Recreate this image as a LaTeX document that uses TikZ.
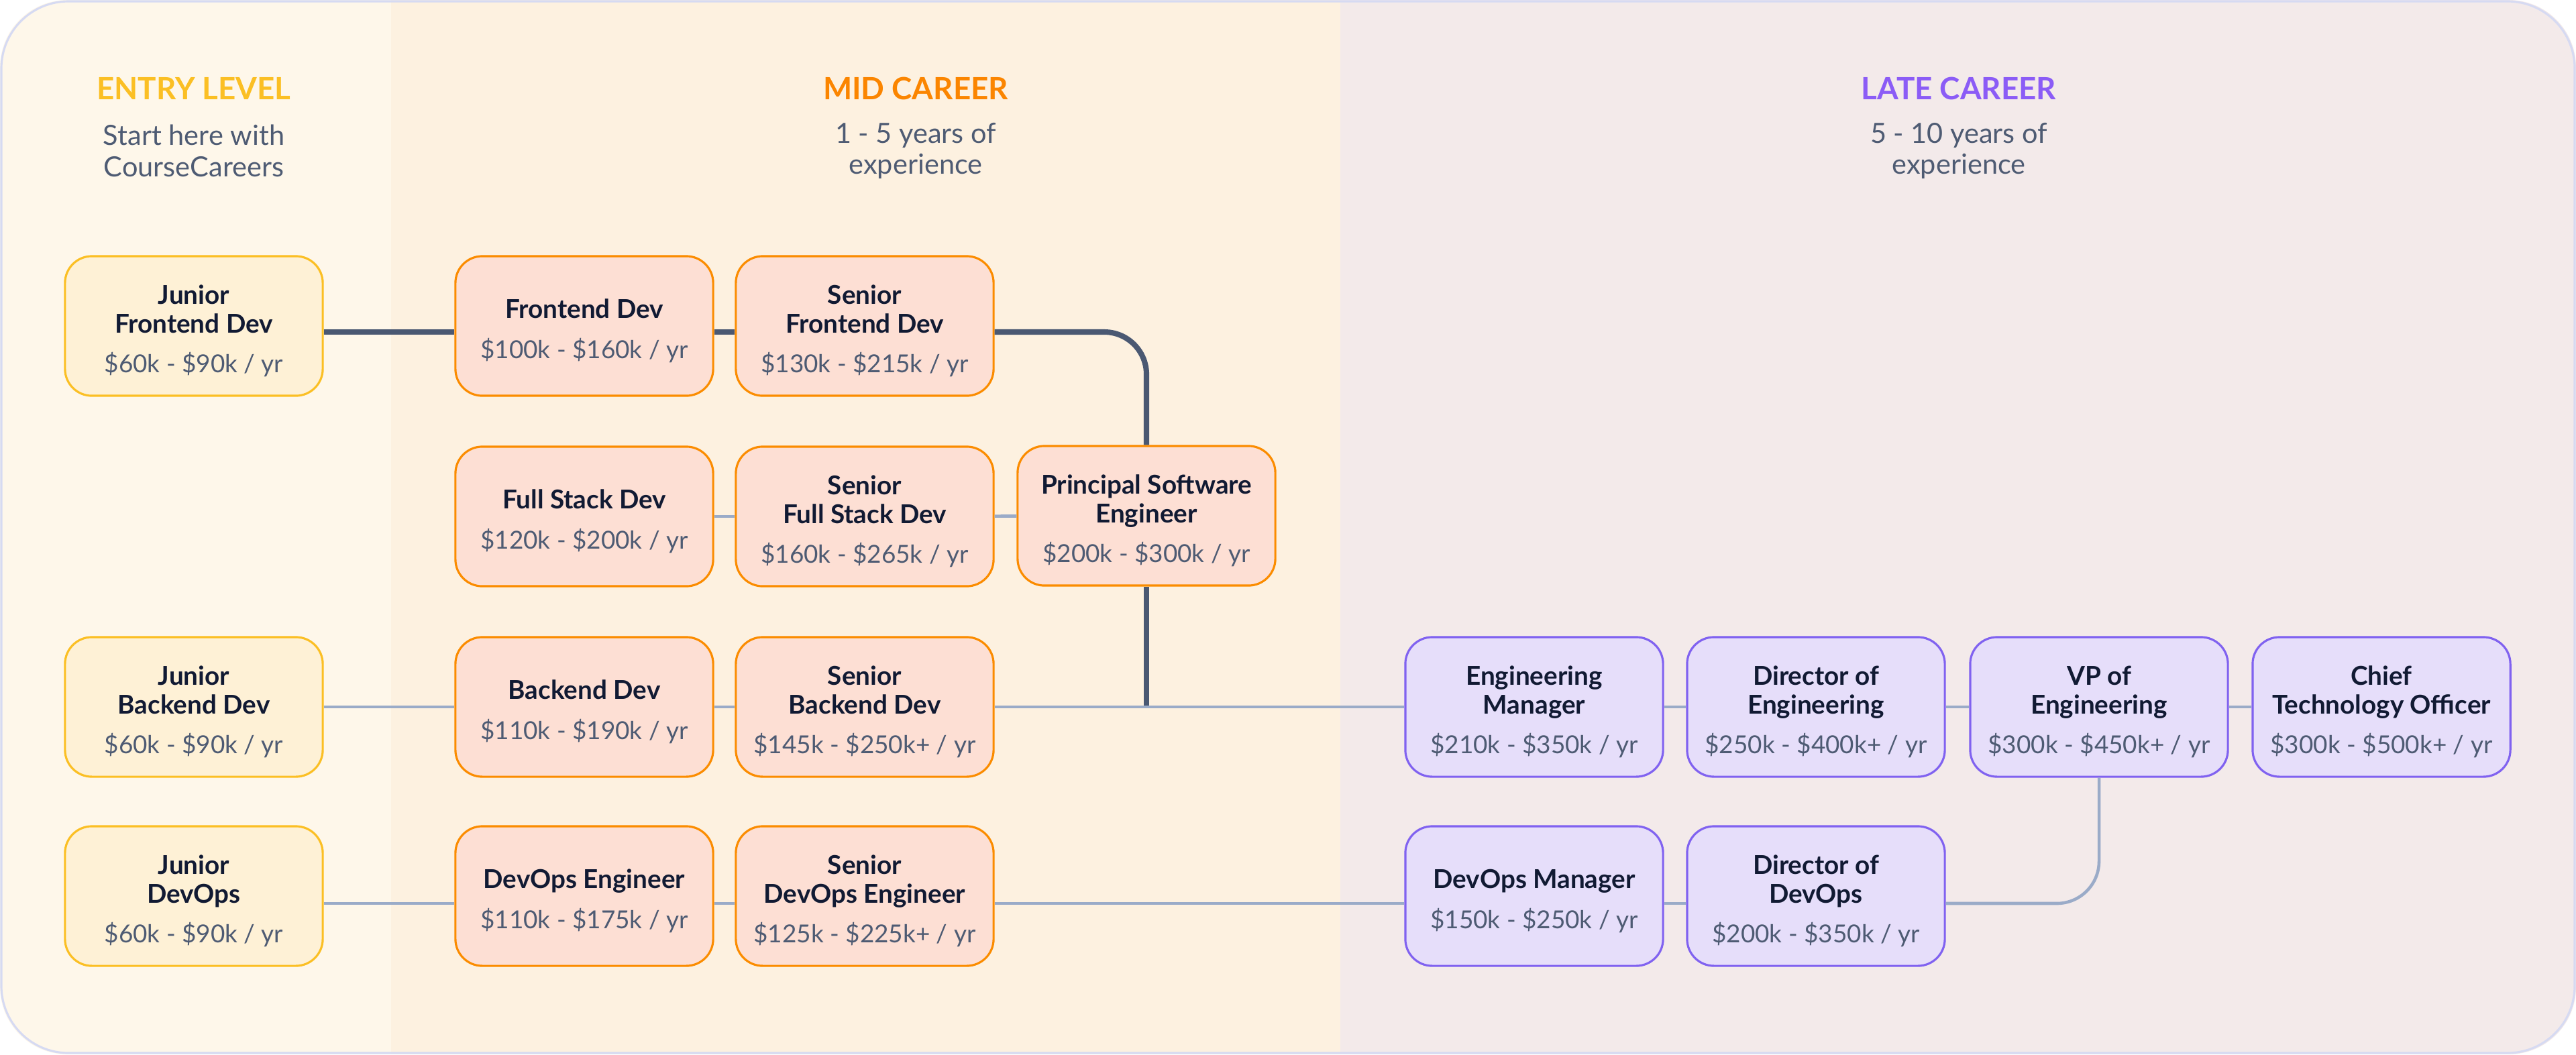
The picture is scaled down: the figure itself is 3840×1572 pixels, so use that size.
\documentclass[tikz,border=0pt]{standalone}
\usepackage{fontspec}
\setmainfont{Lato}
\usepackage{xcolor}
\usepackage{tikz}
\usetikzlibrary{positioning,calc}

\definecolor{entryband}{HTML}{FEF7EA}
\definecolor{midband}{HTML}{FDF1E0}
\definecolor{lateband}{HTML}{F3EAEA}
\definecolor{frameink}{HTML}{D6DAF2}
\definecolor{entryfill}{HTML}{FEF1D6}
\definecolor{entryedge}{HTML}{FBBF24}
\definecolor{midfill}{HTML}{FDDFD4}
\definecolor{midedge}{HTML}{FB8C00}
\definecolor{latefill}{HTML}{E6DEFA}
\definecolor{lateedge}{HTML}{8062F0}
\definecolor{entryhead}{HTML}{FBBF24}
\definecolor{midhead}{HTML}{FB8500}
\definecolor{latehead}{HTML}{8B5CF6}
\definecolor{titleink}{HTML}{111A33}
\definecolor{slateink}{HTML}{4E5B73}
\definecolor{mainink}{HTML}{4A5872}
\definecolor{sideink}{HTML}{9AABC8}

\newcommand{\headroom}{\rule{0pt}{12.5pt}}
\newcommand{\wage}[1]{{\fontsize{10.5}{12}\selectfont\mdseries\color{slateink}#1}}

\begin{document}
\begin{tikzpicture}[x=0.01cm, y=-0.01cm,
    rolebox/.style={rounded corners=0.4cm, line width=0.9pt, minimum width=3.84cm, minimum height=2.08cm,
        align=center, inner sep=0pt, text=titleink, font=\fontsize{11}{12}\selectfont\bfseries},
    entrybox/.style={rolebox, draw=entryedge, fill=entryfill},
    midbox/.style={rolebox, draw=midedge, fill=midfill},
    latebox/.style={rolebox, draw=lateedge, fill=latefill},
    headtext/.style={font=\fontsize{13}{15}\selectfont\bfseries},
    subtext/.style={align=center, text=slateink, font=\fontsize{11.8}{13.3}\selectfont},
    mainline/.style={draw=mainink, line width=2.3pt},
    sideline/.style={draw=sideink, line width=1.3pt}]

    \useasboundingbox (0,0) rectangle (3840,1572);
    \begin{scope}
        \clip[rounded corners=1cm] (0,0) rectangle (3840,1572);
        \fill[entryband] (0,0) rectangle (583,1572);
        \fill[midband] (583,0) rectangle (1998,1572);
        \fill[lateband] (1998,0) rectangle (3840,1572);
    \end{scope}
    \draw[frameink, line width=0.9pt, rounded corners=1cm] (2,2) rectangle (3838,1570);

    \node[headtext, text=entryhead] (entrytitle) at (289,132) {ENTRY LEVEL};
    \node[headtext, text=midhead] (midtitle) at (1365,132) {MID CAREER};
    \node[headtext, text=latehead] (latetitle) at (2920,132) {LATE CAREER};
    \node[subtext] (entrysub) at (289,225) {Start here with\\CourseCareers};
    \node[subtext] (midsub) at (1365,225) {1 - 5 years of\\experience};
    \node[subtext] (latesub) at (2920,225) {5 - 10 years of\\experience};

    \node[entrybox] (jfe) at (289,486) {\headroom Junior\\Frontend Dev\\[5pt]\wage{\$60k - \$90k / yr}};
    \node[entrybox] (jbe) at (289,1054) {\headroom Junior\\Backend Dev\\[5pt]\wage{\$60k - \$90k / yr}};
    \node[entrybox] (jdo) at (289,1336) {\headroom Junior\\DevOps\\[5pt]\wage{\$60k - \$90k / yr}};

    \node[midbox] (fe) at (871,486) {\headroom Frontend Dev\\[5pt]\wage{\$100k - \$160k / yr}};
    \node[midbox] (sfe) at (1289,486) {\headroom Senior\\Frontend Dev\\[5pt]\wage{\$130k - \$215k / yr}};
    \node[midbox] (fs) at (871,770) {\headroom Full Stack Dev\\[5pt]\wage{\$120k - \$200k / yr}};
    \node[midbox] (sfs) at (1289,770) {\headroom Senior\\Full Stack Dev\\[5pt]\wage{\$160k - \$265k / yr}};
    \node[midbox] (pse) at (1709,769) {\headroom Principal Software\\Engineer\\[5pt]\wage{\$200k - \$300k / yr}};
    \node[midbox] (be) at (871,1054) {\headroom Backend Dev\\[5pt]\wage{\$110k - \$190k / yr}};
    \node[midbox] (sbe) at (1289,1054) {\headroom Senior\\Backend Dev\\[5pt]\wage{\$145k - \$250k+ / yr}};
    \node[midbox] (doe) at (871,1336) {\headroom DevOps Engineer\\[5pt]\wage{\$110k - \$175k / yr}};
    \node[midbox] (sdo) at (1289,1336) {\headroom Senior\\DevOps Engineer\\[5pt]\wage{\$125k - \$225k+ / yr}};

    \node[latebox] (em) at (2287,1054) {\headroom Engineering\\Manager\\[5pt]\wage{\$210k - \$350k / yr}};
    \node[latebox] (doen) at (2707,1054) {\headroom Director of\\Engineering\\[5pt]\wage{\$250k - \$400k+ / yr}};
    \node[latebox] (vpe) at (3129,1054) {\headroom VP of\\Engineering\\[5pt]\wage{\$300k - \$450k+ / yr}};
    \node[latebox] (cto) at (3550,1054) {\headroom Chief\\Technology Officer\\[5pt]\wage{\$300k - \$500k+ / yr}};
    \node[latebox] (dom) at (2287,1336) {\headroom DevOps Manager\\[5pt]\wage{\$150k - \$250k / yr}};
    \node[latebox] (dod) at (2707,1336) {\headroom Director of\\DevOps\\[5pt]\wage{\$200k - \$350k / yr}};

    \draw[mainline] ($(jfe.east)+(0,9)$) -- ($(fe.west)+(0,9)$);
    \draw[mainline] ($(fe.east)+(0,9)$) -- ($(sfe.west)+(0,9)$);
    \draw[mainline, rounded corners=0.63cm] ($(sfe.east)+(0,9)$) -| (pse.north);
    \draw[mainline] (pse.south) -- (pse.south |- sbe.east);

    \draw[sideline] (fs) -- (sfs);
    \draw[sideline] (sfs) -- (pse);
    \draw[sideline] (jbe) -- (be);
    \draw[sideline] (be) -- (sbe);
    \draw[sideline] (sbe) -- (em);
    \draw[sideline] (em) -- (doen);
    \draw[sideline] (doen) -- (vpe);
    \draw[sideline] (vpe) -- (cto);
    \draw[sideline] ($(jdo.east)+(0,11)$) -- ($(doe.west)+(0,11)$);
    \draw[sideline] ($(doe.east)+(0,11)$) -- ($(sdo.west)+(0,11)$);
    \draw[sideline] ($(sdo.east)+(0,11)$) -- ($(dom.west)+(0,11)$);
    \draw[sideline] ($(dom.east)+(0,11)$) -- ($(dod.west)+(0,11)$);
    \draw[sideline, rounded corners=0.63cm] ($(dod.east)+(0,11)$) -| (vpe.south);
\end{tikzpicture}
\end{document}
